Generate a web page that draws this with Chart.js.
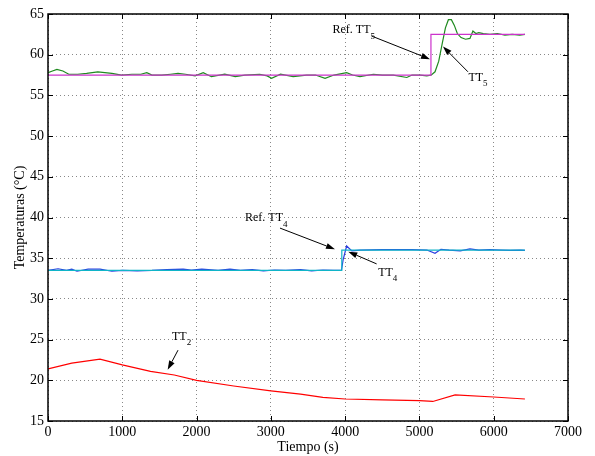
<!DOCTYPE html>
<html>
<head>
<meta charset="utf-8">
<script src="https://cdn.jsdelivr.net/npm/chart.js@4/dist/chart.umd.min.js"></script>
<style>
  html, body { margin: 0; padding: 0; background: #fff; }
  #wrap { width: 595px; height: 456px; }
</style>
</head>
<body>
<div id="wrap"><canvas id="chart" width="595" height="456"></canvas></div>
<script>
'use strict';

/* ── DATA ───────────────────────────────────────────────────── */
var xTicks = [0, 1000, 2000, 3000, 4000, 5000, 6000, 7000];
var yTicks = [15, 20, 25, 30, 35, 40, 45, 50, 55, 60, 65];

var refTT5Time = [0, 5155, 5155, 6420];
var refTT5Temp = [57.5, 57.5, 62.5, 62.5];

var tt5Time = [0, 60, 120, 200, 280, 400, 520, 670, 860, 990, 1130, 1250, 1330, 1400, 1530, 1650,
  1750, 1850, 1980, 2090, 2200, 2380, 2520, 2650, 2850, 2950, 3010, 3130, 3300, 3480, 3600, 3730,
  3850, 4020, 4100, 4200, 4380, 4500, 4650, 4830, 4900, 5010, 5100, 5160, 5210, 5260, 5310, 5350,
  5390, 5430, 5470, 5510, 5560, 5620, 5680, 5720, 5760, 5800, 5860, 5950, 6050, 6150, 6250, 6350, 6420];
var tt5Temp = [57.8, 58.0, 58.2, 58.0, 57.6, 57.6, 57.7, 57.9, 57.7, 57.5, 57.6, 57.6, 57.8, 57.5, 57.5, 57.6,
  57.7, 57.6, 57.4, 57.8, 57.3, 57.6, 57.3, 57.5, 57.6, 57.4, 57.1, 57.6, 57.3, 57.5, 57.5, 57.1,
  57.5, 57.8, 57.5, 57.3, 57.6, 57.5, 57.5, 57.2, 57.5, 57.5, 57.4, 57.5, 57.9, 59.2, 61.5, 63.3,
  64.3, 64.3, 63.6, 62.6, 62.1, 61.9, 62.0, 62.9, 62.6, 62.7, 62.6, 62.5, 62.6, 62.4, 62.5, 62.4, 62.5];

var refTT4Time = [0, 3955, 3955, 6420];
var refTT4Temp = [33.5, 33.5, 36.0, 36.0];

var tt4Time = [0, 135, 250, 320, 390, 540, 700, 860, 1000, 1200, 1400, 1600, 1820, 1930, 2070, 2290,
  2450, 2590, 2750, 2900, 3050, 3200, 3400, 3550, 3700, 3850, 3950, 3975, 4020, 4090, 4200, 4500,
  4900, 5100, 5210, 5290, 5400, 5550, 5680, 5800, 5950, 6100, 6220, 6360, 6420];
var tt4Temp = [33.5, 33.7, 33.5, 33.65, 33.4, 33.65, 33.65, 33.4, 33.5, 33.45, 33.5, 33.6, 33.65, 33.55, 33.65, 33.5,
  33.65, 33.5, 33.6, 33.45, 33.55, 33.5, 33.6, 33.45, 33.55, 33.5, 33.5, 34.9, 36.5, 35.9, 36.0, 36.05,
  36.05, 36.0, 35.6, 36.1, 36.0, 35.9, 36.15, 36.0, 36.05, 36.0, 35.95, 36.0, 35.95];

var tt2Time = [0, 320, 700, 1000, 1380, 1700, 2000, 2500, 3000, 3400, 3700, 4000, 4500, 5000, 5180, 5480, 6000, 6420];
var tt2Temp = [21.4, 22.1, 22.6, 21.9, 21.1, 20.65, 20.0, 19.3, 18.7, 18.3, 17.9, 17.7, 17.6, 17.5, 17.4, 18.2, 17.95, 17.7];

/* annotations: label, sub, text pos, arrow tail, arrow head (data units) */
var notes = [
  { text: 'Ref. TT', sub: '5', at: [3830, 63.0], from: [4354, 62.3], to: [5142, 59.45] },
  { text: 'TT',      sub: '5', at: [5660, 57.2], from: [5653, 57.9], to: [5317, 61.0] },
  { text: 'Ref. TT', sub: '4', at: [2652, 39.9], from: [3123, 38.7], to: [3863, 36.1] },
  { text: 'TT',      sub: '4', at: [4445, 33.2], from: [4424, 34.3], to: [4042, 35.8] },
  { text: 'TT',      sub: '2', at: [1669, 25.4], from: [1750, 23.7], to: [1611, 21.3] }
];

function pts(xs, ys) {
  return xs.map(function(x, i) { return { x: x, y: ys[i] }; });
}

var SERIF = '"Liberation Serif", "Times New Roman", serif';

/* ── PLUGINS ────────────────────────────────────────────────── */
var boxTicks = {
  id: 'boxTicks',
  afterDraw: function(chart) {
    var ctx = chart.ctx, a = chart.chartArea;
    var xs = chart.scales.x, ys = chart.scales.y, L = 5;
    ctx.save();
    ctx.strokeStyle = '#000';
    ctx.lineWidth = 1;
    ctx.beginPath();
    xTicks.forEach(function(v) {
      var px = Math.round(xs.getPixelForValue(v)) + 0.5;
      ctx.moveTo(px, a.bottom); ctx.lineTo(px, a.bottom - L);
      ctx.moveTo(px, a.top);    ctx.lineTo(px, a.top + L);
    });
    yTicks.forEach(function(v) {
      var py = Math.round(ys.getPixelForValue(v)) + 0.5;
      ctx.moveTo(a.left, py);  ctx.lineTo(a.left + L, py);
      ctx.moveTo(a.right, py); ctx.lineTo(a.right - L, py);
    });
    ctx.stroke();
    ctx.lineWidth = 1.5;
    ctx.strokeRect(a.left, a.top, a.right - a.left, a.bottom - a.top);
    ctx.restore();
  }
};

var arrows = {
  id: 'arrows',
  afterDatasetsDraw: function(chart) {
    var ctx = chart.ctx, xs = chart.scales.x, ys = chart.scales.y;
    ctx.save();
    ctx.fillStyle = '#000';
    ctx.strokeStyle = '#000';
    ctx.lineWidth = 1;
    notes.forEach(function(n) {
      var x1 = xs.getPixelForValue(n.from[0]), y1 = ys.getPixelForValue(n.from[1]);
      var x2 = xs.getPixelForValue(n.to[0]),   y2 = ys.getPixelForValue(n.to[1]);
      var ang = Math.atan2(y2 - y1, x2 - x1), hl = 9, hw = 3;
      ctx.beginPath();
      ctx.moveTo(x1, y1); ctx.lineTo(x2 - hl * Math.cos(ang), y2 - hl * Math.sin(ang));
      ctx.stroke();
      ctx.beginPath();
      ctx.moveTo(x2, y2);
      ctx.lineTo(x2 - hl * Math.cos(ang) + hw * Math.sin(ang), y2 - hl * Math.sin(ang) - hw * Math.cos(ang));
      ctx.lineTo(x2 - hl * Math.cos(ang) - hw * Math.sin(ang), y2 - hl * Math.sin(ang) + hw * Math.cos(ang));
      ctx.closePath();
      ctx.fill();

      var tx = xs.getPixelForValue(n.at[0]), ty = ys.getPixelForValue(n.at[1]);
      ctx.textBaseline = 'middle';
      ctx.textAlign = 'left';
      ctx.font = '12px ' + SERIF;
      ctx.fillText(n.text, tx, ty);
      var w = ctx.measureText(n.text).width;
      ctx.font = '9px ' + SERIF;
      ctx.fillText(n.sub, tx + w, ty + 6);
    });
    ctx.restore();
  }
};

/* ── CHART ──────────────────────────────────────────────────── */
function lineSet(label, xs, ys, color) {
  return {
    label: label, data: pts(xs, ys), borderColor: color, backgroundColor: color,
    borderWidth: 1.2, pointRadius: 0, tension: 0, fill: false
  };
}

var gridOpts = { color: '#888', lineWidth: 1, drawTicks: false };
var borderOpts = { display: false, dash: [1, 3] };

new Chart(document.getElementById('chart'), {
  type: 'line',
  data: {
    datasets: [
      lineSet('Ref. TT5', refTT5Time, refTT5Temp, '#cc33cc'),
      lineSet('TT5', tt5Time, tt5Temp, '#1f8a1f'),
      lineSet('Ref. TT4', refTT4Time, refTT4Temp, '#10b4c8'),
      lineSet('TT4', tt4Time, tt4Temp, '#2a3ce0'),
      lineSet('TT2', tt2Time, tt2Temp, '#ff0000')
    ]
  },
  options: {
    responsive: false,
    animation: false,
    devicePixelRatio: 1,
    parsing: false,
    layout: { padding: { top: 14, right: 27, left: 0, bottom: 0 } },
    plugins: { legend: { display: false }, tooltip: { enabled: false } },
    scales: {
      x: {
        type: 'linear', min: 0, max: 7000,
        afterBuildTicks: function(s) { s.ticks = xTicks.map(function(v) { return { value: v }; }); },
        afterFit: function(s) { s.height = 35; },
        grid: gridOpts,
        border: borderOpts,
        ticks: { color: '#000', padding: 3, maxRotation: 0, font: { family: SERIF, size: 14 },
                 callback: function(v) { return String(v); } },
        title: { display: true, text: 'Tiempo (s)', color: '#000', padding: { top: 5, bottom: 0 },
                 font: { family: SERIF, size: 14 } }
      },
      y: {
        type: 'linear', min: 15, max: 65,
        afterBuildTicks: function(s) { s.ticks = yTicks.map(function(v) { return { value: v }; }); },
        afterFit: function(s) { s.width = 48; },
        grid: gridOpts,
        border: borderOpts,
        ticks: { color: '#000', padding: 4, font: { family: SERIF, size: 14 },
                 callback: function(v) { return String(v); } },
        title: { display: true, text: 'Temperaturas (°C)', color: '#000', padding: { top: 12, bottom: 0 },
                 font: { family: SERIF, size: 14 } }
      }
    }
  },
  plugins: [boxTicks, arrows]
});
</script>
</body>
</html>
